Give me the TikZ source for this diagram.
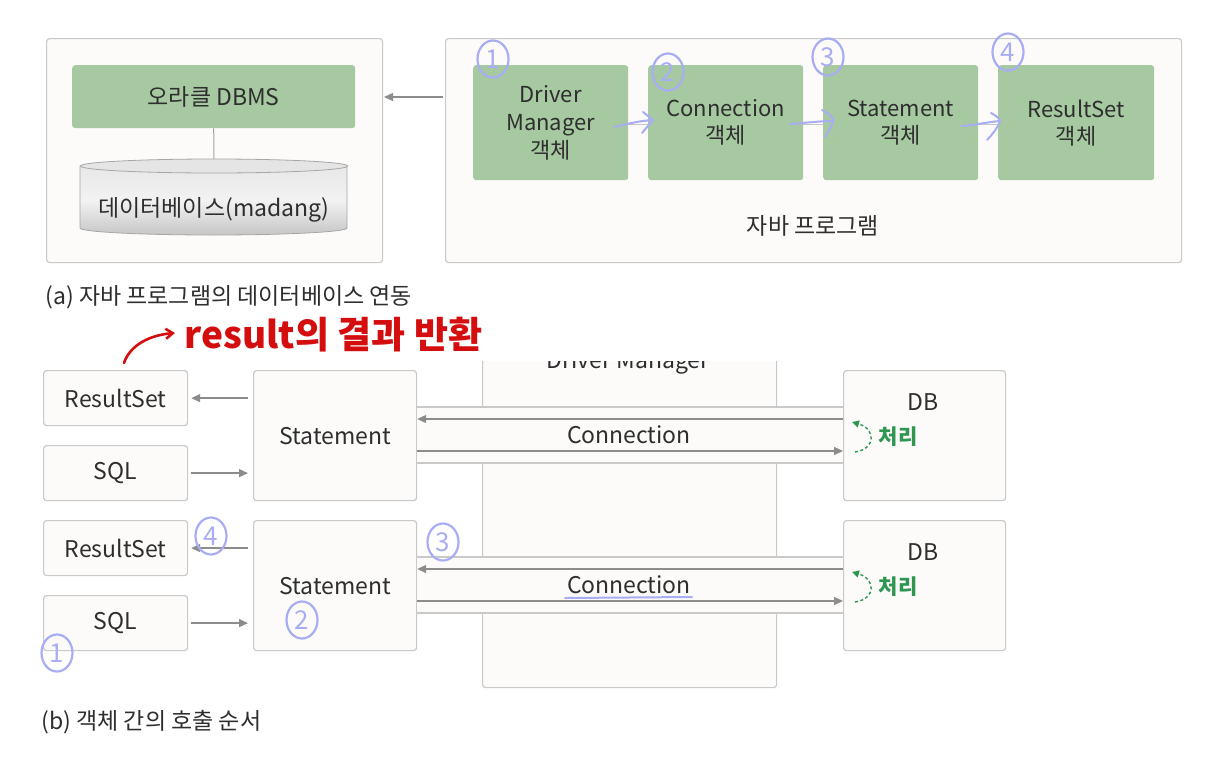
\documentclass[tikz,border=0pt]{standalone}
\usepackage{fontspec}
\setmainfont{Noto Sans CJK KR}
\usetikzlibrary{arrows.meta,calc,shapes.geometric}
\definecolor{panelfill}{HTML}{FCFBFA}
\definecolor{panelline}{HTML}{C9C9C9}
\definecolor{boxgreen}{HTML}{A7C9A1}
\definecolor{arrowgrey}{HTML}{8C8C8C}
\definecolor{textdark}{HTML}{2E2E2E}
\definecolor{penblue}{HTML}{A9AEF4}
\definecolor{penred}{HTML}{D40E0E}
\definecolor{procgreen}{HTML}{2E9650}
\newcommand{\fsz}[1]{\fontsize{#1}{26}\selectfont}
\tikzset{
  panel/.style={draw=panelline, fill=panelfill, line width=1.2pt, rounded corners=3pt},
  gbox/.style={fill=boxgreen, rounded corners=3pt, text=textdark, align=center, font=\fsz{22}},
  wbox/.style={draw=panelline, fill=panelfill, line width=1.2pt, rounded corners=3pt, text=textdark, align=center, font=\fsz{23}},
  garrow/.style={draw=arrowgrey, line width=1.3pt, -{Triangle[length=9pt,width=8pt]}},
  pen/.style={draw=penblue, line width=2pt, line cap=round, line join=round},
  penred/.style={draw=penred, line width=2.6pt, line cap=round, line join=round},
  circnum/.style={ellipse, draw=penblue, line width=2.2pt, text=penblue, inner sep=0pt, minimum width=31pt, minimum height=37pt, font=\fsz{26}},
  caption/.style={anchor=west, text=textdark, font=\fsz{23}},
}
\begin{document}
\begin{tikzpicture}[x=1pt,y=-1pt]
\useasboundingbox (0,0) rectangle (1214,758);
\fill[white] (0,0) rectangle (1214,758);

% ---------- (a) ----------
\node[panel, minimum width=336pt, minimum height=224pt, anchor=north west] (leftpanel) at (46,38) {};
\node[panel, minimum width=736pt, minimum height=224pt, anchor=north west] (rightpanel) at (445,38) {};

\node[gbox, font=\fsz{23}, minimum width=283pt, minimum height=63pt, anchor=north west] (dbms) at (72,65) {오라클 DBMS};

% cylinder
\coordinate (cyltop) at (214,159);
\shade[top color=gray!18, bottom color=gray!45, middle color=gray!10, draw=gray!70, line width=0.8pt]
  (80,166) -- (80,228) arc[start angle=180, end angle=360, x radius=133.5pt, y radius=7pt] -- (347,166) -- cycle;
\fill[gray!20, draw=gray!70, line width=0.8pt] (214,166) ellipse[x radius=133.5pt, y radius=7pt];
\node[text=textdark, font=\fsz{23}] (db) at (214,210) {데이터베이스(madang)};
\draw[panelline!80!black, line width=1pt] (dbms.south) -- (cyltop);

\coordinate (rp) at (443,97);
\coordinate (lp) at (384,97);
\draw[garrow] (rp) -- (lp);

\node[gbox, minimum width=155pt, minimum height=115pt, anchor=north west] (dm) at (473,65) {Driver\\[2pt]Manager\\[2pt]객체};
\node[gbox, minimum width=155pt, minimum height=115pt, anchor=north west] (conn) at (648,65) {Connection\\[1pt]객체};
\node[gbox, minimum width=155pt, minimum height=115pt, anchor=north west] (stmt) at (823,65) {Statement\\[1pt]객체};
\node[gbox, minimum width=156pt, minimum height=115pt, anchor=north west] (rs) at (998,65) {ResultSet\\[1pt]객체};

\draw[gray!45, line width=1.5pt] ($(dm.east)+(0,2)$) -- ($(conn.west)+(0,2)$);
\draw[gray!45, line width=1.5pt] ($(conn.east)+(0,2)$) -- ($(stmt.west)+(0,2)$);
\draw[gray!45, line width=1.5pt] ($(stmt.east)+(0,2)$) -- ($(rs.west)+(0,2)$);

\node[text=textdark, font=\fsz{23}] (java) at (813,226) {자바 프로그램};
\node[caption] (capa) at (42,297) {(a) 자바 프로그램의 데이터베이스 연동};

% blue pen marks (a)
\draw[pen] (615,127) .. controls (630,123) and (640,121) .. (652,120);
\draw[pen] (643,112) -- (653,120) -- (642,133);
\draw[pen] (790,124) .. controls (805,123) and (820,121) .. (833,121);
\draw[pen] (822,110) .. controls (830,114) and (834,118) .. (833,122) .. controls (831,128) and (827,133) .. (825,137);
\draw[pen] (962,126) .. controls (975,125) and (988,122) .. (1000,121);
\draw[pen] (991,113) .. controls (997,116) and (1000,119) .. (1000,122) .. controls (996,130) and (991,136) .. (987,140);
\node[circnum] (n1a) at (493,59) {1};
\node[circnum] (n2a) at (668,72) {2};
\node[circnum] (n3a) at (828,57) {3};
\node[circnum] (n4a) at (1008,52) {4};

% ---------- (b) ----------
\node[panel, minimum width=294pt, minimum height=345pt, anchor=north west] (dmpanel) at (482,342) {};
\node[text=textdark, font=\fsz{23}, anchor=base] (dmlabel) at (628,368) {Driver Manager};
\fill[white] (440,325) rectangle (800,361);

% row 1
\node[wbox, minimum width=144pt, minimum height=55pt, anchor=north west] (rs1) at (43,370) {ResultSet};
\node[wbox, minimum width=144pt, minimum height=55pt, anchor=north west] (sql1) at (43,445) {SQL};
\node[wbox, minimum width=163pt, minimum height=130pt, anchor=north west] (st1) at (253,370) {Statement};
\node[wbox, minimum width=162pt, minimum height=130pt, anchor=north west] (db1) at (843,370) {};
\node[text=textdark, font=\fsz{23}] (db1t) at (923,402) {DB};

% row 2
\node[wbox, minimum width=144pt, minimum height=55pt, anchor=north west] (rs2) at (43,520) {ResultSet};
\node[wbox, minimum width=144pt, minimum height=55pt, anchor=north west] (sql2) at (43,595) {SQL};
\node[wbox, minimum width=163pt, minimum height=130pt, anchor=north west] (st2) at (253,520) {Statement};
\node[wbox, minimum width=162pt, minimum height=130pt, anchor=north west] (db2) at (843,520) {};
\node[text=textdark, font=\fsz{23}] (db2t) at (923,552) {DB};

% connection bands
\foreach \i/\t in {1/407,2/557}{
  \fill[panelfill] ($(st\i.east |- 0,\t)$) rectangle ($(db\i.west |- 0,\t+56)$);
  \draw[panelline, line width=1.2pt] ($(st\i.east |- 0,\t)$) -- ($(db\i.west |- 0,\t)$);
  \draw[panelline, line width=1.2pt] ($(st\i.east |- 0,\t+56)$) -- ($(db\i.west |- 0,\t+56)$);
  \draw[garrow] ($(db\i.west |- 0,\t+12)$) -- ($(st\i.east |- 0,\t+12)$);
  \draw[garrow] ($(st\i.east |- 0,\t+44)$) -- ($(db\i.west |- 0,\t+44)$);
  \node[text=textdark, font=\fsz{23}] (conn\i) at (629,\t+28) {Connection};
  % processing
  \draw[procgreen, line width=1.4pt, dash pattern=on 3pt off 2.5pt, -{Triangle[length=7pt,width=7pt]}]
    (855,\t+45) .. controls (876,\t+42) and (876,\t+22) .. (852,\t+15);
  \node[text=procgreen, font=\fsz{21}\bfseries] (proc\i) at (898,\t+30) {처리};
  % left arrows
  \draw[garrow] ($(st\i.west |- rs\i.east)+(-5,0)$) -- ($(rs\i.east)+(3,0)$);
  \draw[garrow] ($(sql\i.east)+(3,0)$) -- ($(st\i.west |- sql\i.east)+(-5,0)$);
}

\draw[penblue, line width=2pt, line cap=round] (565,598) -- (692,597);

\node[caption] (capb) at (38,722) {(b) 객체 간의 호출 순서};

% blue pen marks (b)
\node[circnum] (n4b) at (211,536) {4};
\node[circnum] (n3b) at (443,542) {3};
\node[circnum] (n2b) at (302,620) {2};
\node[circnum] (n1b) at (57,653) {1};

% red annotation
\draw[penred, -{Straight Barb[length=7pt,width=10pt]}] (124,363) .. controls (130,345) and (150,335) .. (175,333);
\node[text=penred, font=\fsz{37}\bfseries, anchor=west] (redtext) at (181,335) {result의 결과 반환};
\end{tikzpicture}
\end{document}
